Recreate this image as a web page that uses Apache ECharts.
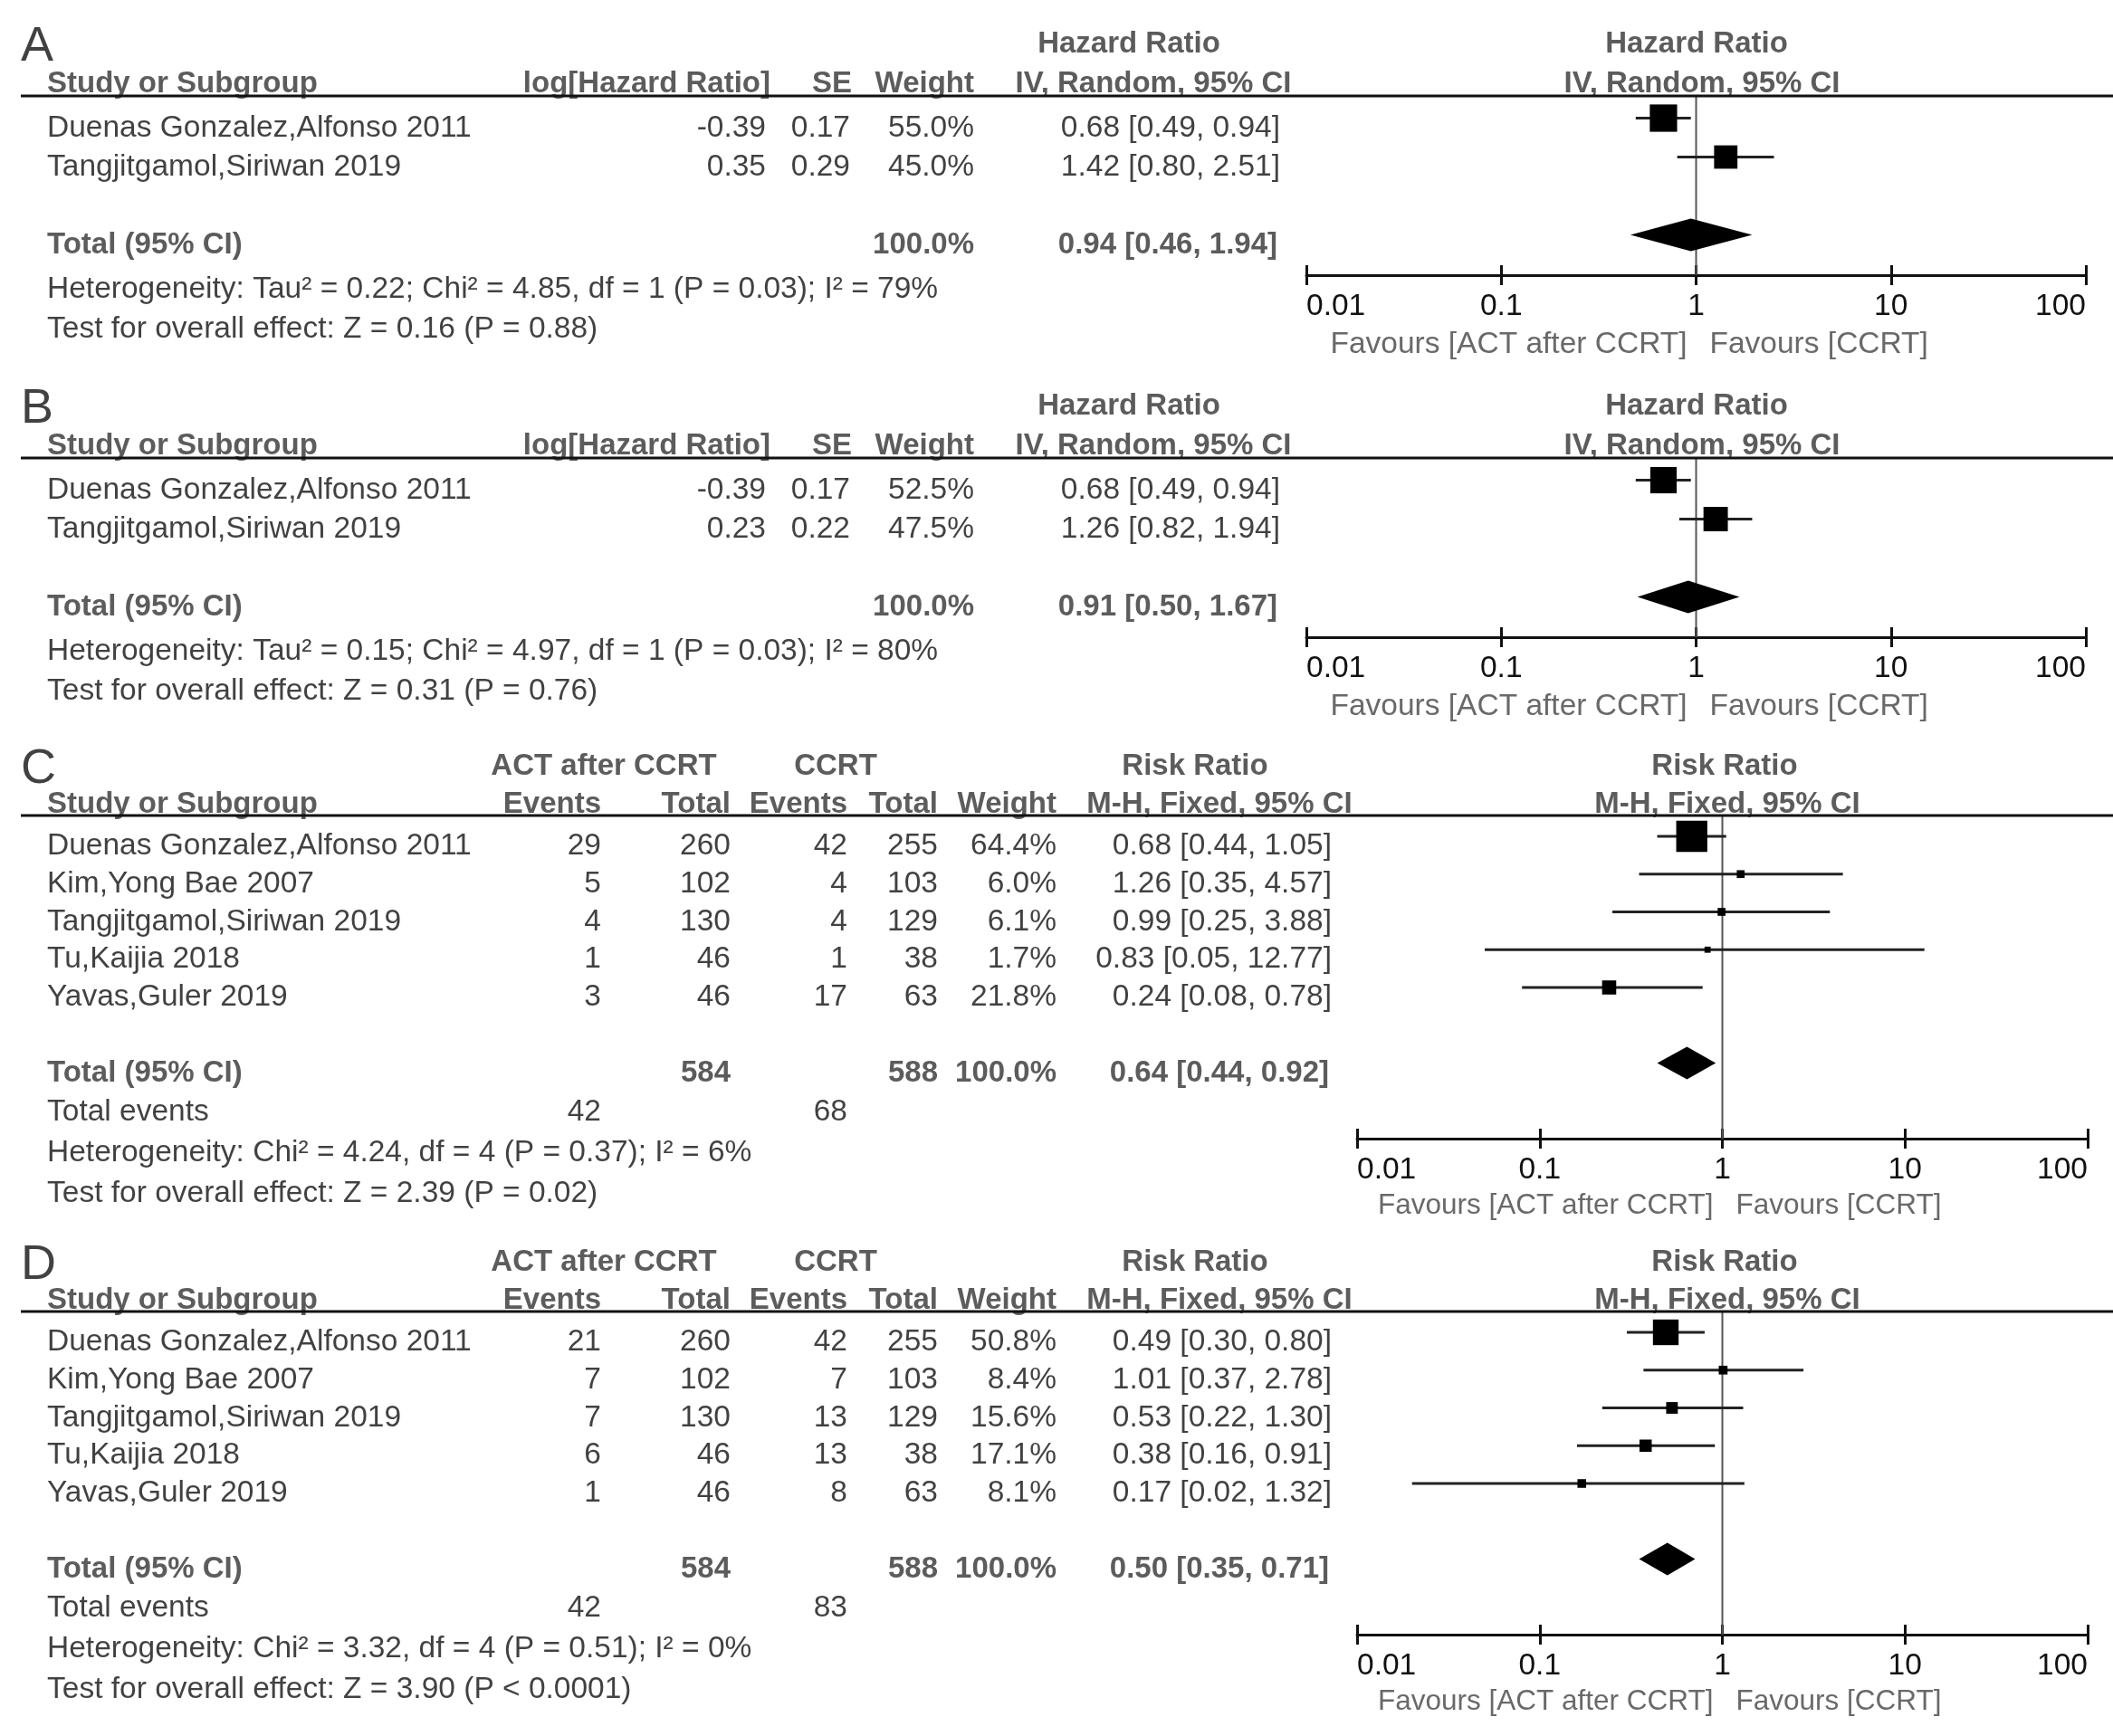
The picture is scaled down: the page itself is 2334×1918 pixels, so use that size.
<!DOCTYPE html>
<html><head><meta charset="utf-8">
<script src="https://cdn.jsdelivr.net/npm/echarts@6/dist/echarts.min.js"></script>
<style>html,body{margin:0;padding:0;background:#fff}#c{width:2334px;height:1918px}</style>
</head><body><div id="c"></div>
<script>
// ================= DATA =================
const xTickValues = [0.01, 0.1, 1, 10, 100];
const xTickLabels = ['0.01', '0.1', '1', '10', '100'];
const favourLeft = 'Favours [ACT after CCRT]';
const favourRight = 'Favours [CCRT]';

// Panel A (hazard ratio, IV random)
const studiesA = ['Duenas Gonzalez,Alfonso 2011', 'Tangjitgamol,Siriwan 2019'];
const logHrA = [-0.39, 0.35];
const seA = [0.17, 0.29];
const weightA = [55.0, 45.0];
const hrA = [0.68, 1.42];
const hrLoA = [0.49, 0.80];
const hrHiA = [0.94, 2.51];
const totalA = [0.94, 0.46, 1.94];
const hetA = 'Heterogeneity: Tau² = 0.22; Chi² = 4.85, df = 1 (P = 0.03); I² = 79%';
const testA = 'Test for overall effect: Z = 0.16 (P = 0.88)';

// Panel B (hazard ratio, IV random)
const studiesB = ['Duenas Gonzalez,Alfonso 2011', 'Tangjitgamol,Siriwan 2019'];
const logHrB = [-0.39, 0.23];
const seB = [0.17, 0.22];
const weightB = [52.5, 47.5];
const hrB = [0.68, 1.26];
const hrLoB = [0.49, 0.82];
const hrHiB = [0.94, 1.94];
const totalB = [0.91, 0.50, 1.67];
const hetB = 'Heterogeneity: Tau² = 0.15; Chi² = 4.97, df = 1 (P = 0.03); I² = 80%';
const testB = 'Test for overall effect: Z = 0.31 (P = 0.76)';

// Panel C (risk ratio, M-H fixed)
const studiesC = ['Duenas Gonzalez,Alfonso 2011', 'Kim,Yong Bae 2007', 'Tangjitgamol,Siriwan 2019', 'Tu,Kaijia 2018', 'Yavas,Guler 2019'];
const expEventsC = [29, 5, 4, 1, 3];
const expTotalC = [260, 102, 130, 46, 46];
const ctlEventsC = [42, 4, 4, 1, 17];
const ctlTotalC = [255, 103, 129, 38, 63];
const weightC = [64.4, 6.0, 6.1, 1.7, 21.8];
const rrC = [0.68, 1.26, 0.99, 0.83, 0.24];
const rrLoC = [0.44, 0.35, 0.25, 0.05, 0.08];
const rrHiC = [1.05, 4.57, 3.88, 12.77, 0.78];
const totalC = [0.64, 0.44, 0.92];
const hetC = 'Heterogeneity: Chi² = 4.24, df = 4 (P = 0.37); I² = 6%';
const testC = 'Test for overall effect: Z = 2.39 (P = 0.02)';

// Panel D (risk ratio, M-H fixed)
const studiesD = ['Duenas Gonzalez,Alfonso 2011', 'Kim,Yong Bae 2007', 'Tangjitgamol,Siriwan 2019', 'Tu,Kaijia 2018', 'Yavas,Guler 2019'];
const expEventsD = [21, 7, 7, 6, 1];
const expTotalD = [260, 102, 130, 46, 46];
const ctlEventsD = [42, 7, 13, 13, 8];
const ctlTotalD = [255, 103, 129, 38, 63];
const weightD = [50.8, 8.4, 15.6, 17.1, 8.1];
const rrD = [0.49, 1.01, 0.53, 0.38, 0.17];
const rrLoD = [0.30, 0.37, 0.22, 0.16, 0.02];
const rrHiD = [0.80, 2.78, 1.30, 0.91, 1.32];
const totalD = [0.50, 0.35, 0.71];
const hetD = 'Heterogeneity: Chi² = 3.32, df = 4 (P = 0.51); I² = 0%';
const testD = 'Test for overall effect: Z = 3.90 (P < 0.0001)';

// ================= LAYOUT / STYLE =================
const W = 2334;
const FONT = "'Liberation Sans', Arial, Helvetica, sans-serif";
const FS = 33.5;
const C_TEXT = '#111';
const C_HEAD = '#333';
const C_FAV = '#444';

function layoutAB(dy) {
  return { rowH: 43, row0Y: 141.5 + dy, headerLineY: 106 + dy, axisY: 304 + dy,
    plotLeft: 1443, plotRight: 2304, markDy: -11, favFS: 33.5,
    titleRow: -2.15, headRow: -1.13, footer: [1.15, 2.17] };
}
function layoutCD(dy) {
  return { rowH: 41.75, row0Y: 935 + dy, headerLineY: 901 + dy, axisY: 1258 + dy,
    plotLeft: 1499, plotRight: 2306, markDy: -11, favFS: 31.5,
    titleRow: -2.1, headRow: -1.1, footer: [1.04, 2.12, 3.2] };
}
const colAB = { letter: 23, name: 52, logHr: 846, se: 939, weight: 1076, ci: 1414, ciTot: 1411,
  hLog: 851, hSe: 941, hW: 1076, hCi: 1274, hTitle: 1247, pTitle: 1874, pSub: 1880 };
const colCD = { letter: 23, name: 52, eE: 664, eT: 807, cE: 936, cT: 1036, weight: 1167, ci: 1471, ciTot: 1468,
  hAct: 667, hCcrt: 923, hTitle: 1320, hSub: 1347, pTitle: 1905, pSub: 1908 };

// ================= BUILD =================
const option = { animation: false, backgroundColor: '#fff', grid: [], xAxis: [], yAxis: [], series: [], graphic: [] };

function addGrid(g) {
  option.grid.push(Object.assign({ containLabel: false, outerBoundsMode: 'none', show: false }, g));
  return option.grid.length - 1;
}
const fmtCI = (e, l, h) => e.toFixed(2) + ' [' + l.toFixed(2) + ', ' + h.toFixed(2) + ']';
const sum = a => a.reduce((s, v) => s + v, 0);

function txt(arr, x, row, text, o) {
  arr.push({ name: text, value: [x, row], label: Object.assign({ align: 'left' }, o || {}) });
}
const B = { fontWeight: 'bold', color: C_HEAD, fontSize: 33 };

function tableSeries(L, yMax, items) {
  const gi = addGrid({ left: 0, width: W, top: L.row0Y - 3 * L.rowH, height: (yMax + 3) * L.rowH });
  option.xAxis.push({ type: 'value', gridIndex: gi, min: 0, max: W, show: false });
  const xi = option.xAxis.length - 1;
  option.yAxis.push({ type: 'value', gridIndex: gi, min: -3, max: yMax, inverse: true, show: false });
  const yi = option.yAxis.length - 1;
  option.series.push({
    type: 'scatter', xAxisIndex: xi, yAxisIndex: yi, symbolSize: 1, silent: true, z: 5,
    itemStyle: { color: 'rgba(0,0,0,0)' },
    label: { show: true, position: 'inside', formatter: p => p.name, fontFamily: FONT, fontSize: FS,
      color: C_TEXT, verticalAlign: 'middle', textBorderWidth: 0 },
    data: items
  });
}

function forest(L, est, lo, hi, weight, total) {
  const markY0 = L.row0Y + L.markDy;
  const yMin = (L.headerLineY - markY0) / L.rowH;
  const yMax = (L.axisY - markY0) / L.rowH;
  const gi = addGrid({ left: L.plotLeft, width: L.plotRight - L.plotLeft, top: L.headerLineY, height: L.axisY - L.headerLineY });
  const base = { type: 'log', logBase: 10, gridIndex: gi, min: xTickValues[0], max: xTickValues[xTickValues.length - 1],
    position: 'bottom', splitLine: { show: false }, minorTick: { show: false }, minorSplitLine: { show: false } };
  option.xAxis.push(Object.assign({}, base, {
    axisLine: { show: true, onZero: false, lineStyle: { color: '#111', width: 3 } },
    axisTick: { show: true, inside: false, length: 11, lineStyle: { color: '#111', width: 3 } },
    axisLabel: { show: true, margin: 18, fontSize: FS, fontFamily: FONT, color: C_TEXT,
      showMinLabel: true, showMaxLabel: true, alignMinLabel: 'left', alignMaxLabel: 'right',
      formatter: v => { const k = xTickValues.findIndex(t => Math.abs(Math.log10(t) - Math.log10(v)) < 1e-6); return k >= 0 ? xTickLabels[k] : ''; } }
  }));
  const xi = option.xAxis.length - 1;
  option.xAxis.push(Object.assign({}, base, {
    axisLine: { show: false, onZero: false },
    axisTick: { show: true, inside: true, length: 11, lineStyle: { color: '#111', width: 3 } },
    axisLabel: { show: false }
  }));
  option.yAxis.push({ type: 'value', gridIndex: gi, min: yMin, max: yMax, inverse: true, show: false });
  const yi = option.yAxis.length - 1;
  const n = est.length;

  // reference line at 1
  option.series.push({
    type: 'custom', xAxisIndex: xi, yAxisIndex: yi, silent: true, z: 1, clip: false,
    encode: { x: 0, y: [1, 2] },
    data: [[1, yMin, yMax]],
    renderItem: (p, api) => {
      const a = api.coord([api.value(0), api.value(1)]);
      const b = api.coord([api.value(0), api.value(2)]);
      return { type: 'line', shape: { x1: a[0], y1: a[1], x2: b[0], y2: b[1] }, style: { stroke: '#555', lineWidth: 2 } };
    }
  });
  // CI lines
  option.series.push({
    type: 'custom', xAxisIndex: xi, yAxisIndex: yi, silent: true, z: 2, clip: false,
    encode: { x: [0, 1], y: 2 },
    data: est.map((_, i) => [lo[i], hi[i], i]),
    renderItem: (p, api) => {
      const a = api.coord([api.value(0), api.value(2)]);
      const b = api.coord([api.value(1), api.value(2)]);
      return { type: 'line', shape: { x1: a[0], y1: a[1], x2: b[0], y2: b[1] }, style: { stroke: '#222', lineWidth: 3 } };
    }
  });
  // squares
  option.series.push({
    type: 'scatter', xAxisIndex: xi, yAxisIndex: yi, silent: true, z: 3, symbol: 'rect',
    symbolSize: v => 6 + 0.44 * v[2],
    itemStyle: { color: '#000', opacity: 1 },
    data: est.map((e, i) => [e, i, weight[i]])
  });
  // diamond
  option.series.push({
    type: 'custom', xAxisIndex: xi, yAxisIndex: yi, silent: true, z: 3, clip: false,
    encode: { x: [0, 1, 2], y: 3 },
    data: [[total[0], total[1], total[2], n + 1]],
    renderItem: (p, api) => {
      const y = api.value(3);
      const c = api.coord([api.value(0), y]);
      const l = api.coord([api.value(1), y]);
      const r = api.coord([api.value(2), y]);
      const h = 18;
      return { type: 'polygon', shape: { points: [l, [c[0], c[1] - h], r, [c[0], c[1] + h]] }, style: { fill: '#000' } };
    }
  });
  // header rule (decorative)
  option.graphic.push({ type: 'line', shape: { x1: 23, y1: L.headerLineY, x2: W, y2: L.headerLineY },
    style: { stroke: '#111', lineWidth: 3 }, silent: true, z: 10 });
}

function panelAB(letter, dy, studies, logHr, se, weight, est, lo, hi, total, het, test) {
  const L = layoutAB(dy), c = colAB, n = studies.length, items = [];
  const tRow = n + 1;
  const favRow = (L.axisY + 77 - L.row0Y) / L.rowH;
  const x1 = (L.plotLeft + L.plotRight) / 2;
  txt(items, c.letter, L.titleRow, letter, { fontSize: 54, offset: [0, 3], color: C_TEXT });
  txt(items, c.hTitle, L.titleRow, 'Hazard Ratio', Object.assign({ align: 'center' }, B));
  txt(items, c.pTitle, L.titleRow, 'Hazard Ratio', Object.assign({ align: 'center' }, B));
  txt(items, c.name, L.headRow, 'Study or Subgroup', B);
  txt(items, c.hLog, L.headRow, 'log[Hazard Ratio]', Object.assign({ align: 'right' }, B));
  txt(items, c.hSe, L.headRow, 'SE', Object.assign({ align: 'right' }, B));
  txt(items, c.hW, L.headRow, 'Weight', Object.assign({ align: 'right' }, B));
  txt(items, c.hCi, L.headRow, 'IV, Random, 95% CI', Object.assign({ align: 'center' }, B));
  txt(items, c.pSub, L.headRow, 'IV, Random, 95% CI', Object.assign({ align: 'center' }, B));
  studies.forEach((s, i) => {
    txt(items, c.name, i, s);
    txt(items, c.logHr, i, logHr[i].toFixed(2), { align: 'right' });
    txt(items, c.se, i, se[i].toFixed(2), { align: 'right' });
    txt(items, c.weight, i, weight[i].toFixed(1) + '%', { align: 'right' });
    txt(items, c.ci, i, fmtCI(est[i], lo[i], hi[i]), { align: 'right' });
  });
  txt(items, c.name, tRow, 'Total (95% CI)', B);
  txt(items, c.weight, tRow, sum(weight).toFixed(1) + '%', Object.assign({ align: 'right' }, B));
  txt(items, c.ciTot, tRow, fmtCI(total[0], total[1], total[2]), Object.assign({ align: 'right' }, B));
  txt(items, c.name, tRow + L.footer[0], het);
  txt(items, c.name, tRow + L.footer[1], test);
  txt(items, x1 - 10, favRow, favourLeft, { align: 'right', color: C_FAV, fontSize: L.favFS });
  txt(items, x1 + 15, favRow, favourRight, { align: 'left', color: C_FAV, fontSize: L.favFS });
  tableSeries(L, Math.ceil(favRow) + 1, items);
  forest(L, est, lo, hi, weight, total);
}

function panelCD(letter, dy, studies, eE, eT, cE, cT, weight, est, lo, hi, total, het, test) {
  const L = layoutCD(dy), c = colCD, n = studies.length, items = [];
  const tRow = n + 1;
  const favRow = (L.axisY + 74 - L.row0Y) / L.rowH;
  const x1 = (L.plotLeft + L.plotRight) / 2;
  txt(items, c.letter, L.titleRow, letter, { fontSize: 54, offset: [0, 3], color: C_TEXT });
  txt(items, c.hAct, L.titleRow, 'ACT after CCRT', Object.assign({ align: 'center' }, B));
  txt(items, c.hCcrt, L.titleRow, 'CCRT', Object.assign({ align: 'center' }, B));
  txt(items, c.hTitle, L.titleRow, 'Risk Ratio', Object.assign({ align: 'center' }, B));
  txt(items, c.pTitle, L.titleRow, 'Risk Ratio', Object.assign({ align: 'center' }, B));
  txt(items, c.name, L.headRow, 'Study or Subgroup', B);
  txt(items, c.eE, L.headRow, 'Events', Object.assign({ align: 'right' }, B));
  txt(items, c.eT, L.headRow, 'Total', Object.assign({ align: 'right' }, B));
  txt(items, c.cE, L.headRow, 'Events', Object.assign({ align: 'right' }, B));
  txt(items, c.cT, L.headRow, 'Total', Object.assign({ align: 'right' }, B));
  txt(items, c.weight, L.headRow, 'Weight', Object.assign({ align: 'right' }, B));
  txt(items, c.hSub, L.headRow, 'M-H, Fixed, 95% CI', Object.assign({ align: 'center' }, B));
  txt(items, c.pSub, L.headRow, 'M-H, Fixed, 95% CI', Object.assign({ align: 'center' }, B));
  studies.forEach((s, i) => {
    txt(items, c.name, i, s);
    txt(items, c.eE, i, String(eE[i]), { align: 'right' });
    txt(items, c.eT, i, String(eT[i]), { align: 'right' });
    txt(items, c.cE, i, String(cE[i]), { align: 'right' });
    txt(items, c.cT, i, String(cT[i]), { align: 'right' });
    txt(items, c.weight, i, weight[i].toFixed(1) + '%', { align: 'right' });
    txt(items, c.ci, i, fmtCI(est[i], lo[i], hi[i]), { align: 'right' });
  });
  txt(items, c.name, tRow, 'Total (95% CI)', B);
  txt(items, c.eT, tRow, String(sum(eT)), Object.assign({ align: 'right' }, B));
  txt(items, c.cT, tRow, String(sum(cT)), Object.assign({ align: 'right' }, B));
  txt(items, c.weight, tRow, sum(weight).toFixed(1) + '%', Object.assign({ align: 'right' }, B));
  txt(items, c.ciTot, tRow, fmtCI(total[0], total[1], total[2]), Object.assign({ align: 'right' }, B));
  txt(items, c.name, tRow + L.footer[0], 'Total events');
  txt(items, c.eE, tRow + L.footer[0], String(sum(eE)), { align: 'right' });
  txt(items, c.cE, tRow + L.footer[0], String(sum(cE)), { align: 'right' });
  txt(items, c.name, tRow + L.footer[1], het);
  txt(items, c.name, tRow + L.footer[2], test);
  txt(items, x1 - 10, favRow, favourLeft, { align: 'right', color: C_FAV, fontSize: L.favFS });
  txt(items, x1 + 15, favRow, favourRight, { align: 'left', color: C_FAV, fontSize: L.favFS });
  tableSeries(L, Math.ceil(favRow) + 1, items);
  forest(L, est, lo, hi, weight, total);
}

panelAB('A', 0, studiesA, logHrA, seA, weightA, hrA, hrLoA, hrHiA, totalA, hetA, testA);
panelAB('B', 400, studiesB, logHrB, seB, weightB, hrB, hrLoB, hrHiB, totalB, hetB, testB);
panelCD('C', 0, studiesC, expEventsC, expTotalC, ctlEventsC, ctlTotalC, weightC, rrC, rrLoC, rrHiC, totalC, hetC, testC);
panelCD('D', 548, studiesD, expEventsD, expTotalD, ctlEventsD, ctlTotalD, weightD, rrD, rrLoD, rrHiD, totalD, hetD, testD);

const chart = echarts.init(document.getElementById('c'), null, { renderer: 'canvas', width: 2334, height: 1918 });
chart.setOption(option);
</script>
</body></html>
